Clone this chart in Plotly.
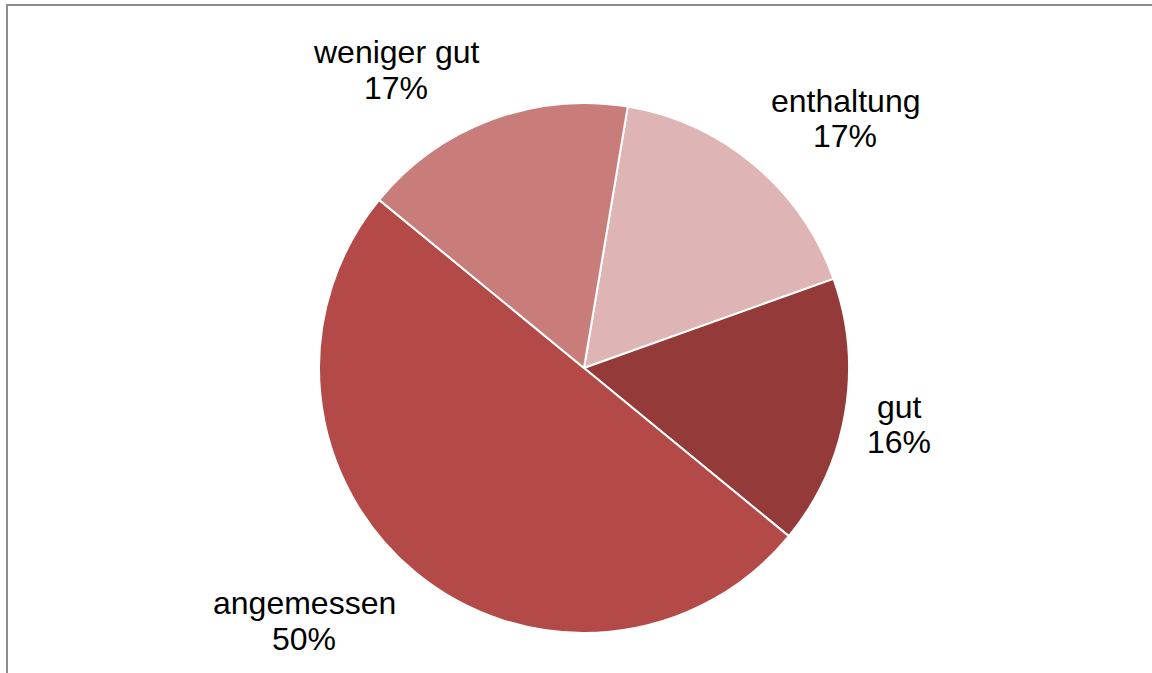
import plotly.graph_objects as go

labels = ["enthaltung", "gut", "angemessen", "weniger gut"]
values = [16.9, 16.4, 50.0, 16.7]
colors = ["#DEB5B4", "#943B3A", "#B34A48", "#C97D7B"]

W, H = 1152, 673

# label positions in pixels (name line, percent line)
label_pos = {
    "weniger gut": (396, 52, 88),
    "enthaltung": (845, 101, 136),
    "gut": (899, 407, 442),
    "angemessen": (304, 603, 639),
}

fig = go.Figure()
fig.add_trace(go.Pie(
    labels=labels,
    values=values,
    sort=False,
    direction="clockwise",
    rotation=9.5,
    marker=dict(colors=colors, line=dict(color="white", width=2)),
    textinfo="none",
    hoverinfo="label+percent",
    domain=dict(x=[319 / W, 849 / W], y=[(H - 633) / H, (H - 103) / H]),
    showlegend=False,
))

total = sum(values)
font = dict(family="Liberation Sans, Arial, sans-serif", size=32, color="black")
for name, v in zip(labels, values):
    x, y1, y2 = label_pos[name]
    fig.add_annotation(x=x / W, y=1 - y1 / H, xref="paper", yref="paper",
                       text=name, showarrow=False, font=font,
                       xanchor="center", yanchor="middle")
    fig.add_annotation(x=x / W, y=1 - y2 / H, xref="paper", yref="paper",
                       text=f"{v / total * 100:.0f}%", showarrow=False, font=font,
                       xanchor="center", yanchor="middle")

# chart frame
fig.add_shape(type="rect", xref="paper", yref="paper",
              x0=7 / W, x1=1.05, y0=-0.05, y1=1 - 5 / H,
              line=dict(color="#8C8C8C", width=2))

fig.update_layout(
    width=W, height=H,
    margin=dict(l=0, r=0, t=0, b=0),
    paper_bgcolor="white",
    plot_bgcolor="white",
)

fig.write_html("out.html", config={"displayModeBar": False},
               post_script="document.body.style.margin='0';")
